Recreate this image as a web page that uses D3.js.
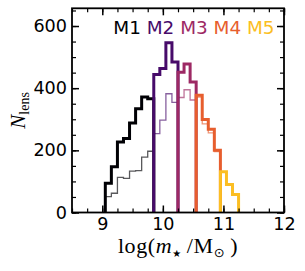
<!DOCTYPE html>
<html>
<head>
<meta charset="utf-8">
<script src="https://cdn.jsdelivr.net/npm/d3@7"></script>
<style>
  body { margin: 0; background: #fff; }
  svg { display: block; }
</style>
</head>
<body>
<div id="chart"></div>
<script>
// bin edges of the mass bins (dex)
let edgesM1 = [9.05, 9.15, 9.25, 9.35, 9.45, 9.55, 9.65, 9.75, 9.85]
let edgesM2 = [9.85, 9.95, 10.05, 10.15, 10.25]
let edgesM3 = [10.25, 10.35, 10.45, 10.55]
let edgesM4 = [10.55, 10.65, 10.75, 10.85, 10.95]
let edgesM5 = [10.95, 11.05, 11.15, 11.25]

// counts, all lenses (thick) and subset (thin)
let allM1 = [94, 147, 227, 238, 288, 334, 372, 366]
let subM1 = [51, 62, 113, 110, 133, 135, 178, 197]
let allM2 = [444, 463, 546, 484]
let subM2 = [254, 297, 382, 354]
let allM3 = [451, 478, 420]
let subM3 = [370, 395, 362]
let allM4 = [377, 299, 268, 200]
let subM4 = [371, 285, 256, 196]
let allM5 = [131, 90, 58]
let subM5 = [131, 90, 58]

let labels = ['M1', 'M2', 'M3', 'M4', 'M5']
let xTicks = [9, 10, 11, 12]
let yTicks = [0, 200, 400, 600]

let groups = [
    { edges: edgesM1, all: allM1, sub: subM1 },
    { edges: edgesM2, all: allM2, sub: subM2 },
    { edges: edgesM3, all: allM3, sub: subM3 },
    { edges: edgesM4, all: allM4, sub: subM4 },
    { edges: edgesM5, all: allM5, sub: subM5 }
]
let colores = [0, 0.2125, 0.425, 0.6375, 0.85].map(t => d3.interpolateInferno(t))

let W = 305, H = 271
let mLeft = 72, mRight = 284, mTop = 8.3, mBottom = 212.5

let svg = d3.select('#chart').append('svg')
    .attr('width', W)
    .attr('height', H)

let x = d3.scaleLinear().domain([8.5, 12]).range([mLeft, mRight])
let y = d3.scaleLinear().domain([0, 657]).range([mBottom, mTop])

// histograms
let line = d3.line().x(d => x(d[0])).y(d => y(d[1]))

function pasos(edges, vals) {
    let pts = [[edges[0], 0]]
    vals.forEach((v, i) => {
        pts.push([edges[i], v])
        pts.push([edges[i + 1], v])
    })
    pts.push([edges[edges.length - 1], 0])
    return pts
}

let hist = svg.append('g')
groups.forEach((g, i) => {
    hist.append('path')
        .attr('d', line(pasos(g.edges, g.sub)))
        .attr('fill', 'none')
        .attr('stroke', colores[i])
        .attr('stroke-opacity', 0.65)
        .attr('stroke-width', 1.3)
})
groups.forEach((g, i) => {
    hist.append('path')
        .attr('d', line(pasos(g.edges, g.all)))
        .attr('fill', 'none')
        .attr('stroke', colores[i])
        .attr('stroke-width', 3)
        .attr('stroke-linejoin', 'miter')
})

// axes, ticks pointing inwards on all four sides
let xMinor = d3.range(8.5, 12.001, 0.25)
let yMinor = d3.range(0, 651, 50)

function estilo(g, w) {
    g.select('.domain').remove()
    g.selectAll('line').attr('stroke', '#000').attr('stroke-width', w)
    g.selectAll('text')
        .attr('font-family', 'DejaVu Sans')
        .attr('font-size', 17.6)
        .attr('fill', '#000')
}

svg.append('g').attr('transform', `translate(0,${mBottom})`)
    .call(d3.axisBottom(x).tickValues(xMinor).tickSize(-4).tickFormat(''))
    .call(g => estilo(g, 1.2))
svg.append('g').attr('transform', `translate(0,${mBottom})`)
    .call(d3.axisBottom(x).tickValues(xTicks).tickSize(-7).tickPadding(5).tickFormat(d3.format('d')))
    .call(g => estilo(g, 1.5))
svg.append('g').attr('transform', `translate(0,${mTop})`)
    .call(d3.axisTop(x).tickValues(xMinor).tickSize(-4).tickFormat(''))
    .call(g => estilo(g, 1.2))
svg.append('g').attr('transform', `translate(0,${mTop})`)
    .call(d3.axisTop(x).tickValues(xTicks).tickSize(-7).tickFormat(''))
    .call(g => estilo(g, 1.5))

svg.append('g').attr('transform', `translate(${mLeft},0)`)
    .call(d3.axisLeft(y).tickValues(yMinor).tickSize(-4).tickFormat(''))
    .call(g => estilo(g, 1.2))
svg.append('g').attr('transform', `translate(${mLeft},0)`)
    .call(d3.axisLeft(y).tickValues(yTicks).tickSize(-7).tickPadding(5).tickFormat(d3.format('d')))
    .call(g => estilo(g, 1.5))
svg.append('g').attr('transform', `translate(${mRight},0)`)
    .call(d3.axisRight(y).tickValues(yMinor).tickSize(-4).tickFormat(''))
    .call(g => estilo(g, 1.2))
svg.append('g').attr('transform', `translate(${mRight},0)`)
    .call(d3.axisRight(y).tickValues(yTicks).tickSize(-7).tickFormat(''))
    .call(g => estilo(g, 1.5))

svg.append('rect')
    .attr('x', mLeft).attr('y', mTop)
    .attr('width', mRight - mLeft).attr('height', mBottom - mTop)
    .attr('fill', 'none')
    .attr('stroke', '#000')
    .attr('stroke-width', 1.8)

// mass bin labels
let leyenda = svg.append('text')
    .attr('x', 113.3)
    .attr('y', 34)
    .attr('font-family', 'DejaVu Sans')
    .attr('font-size', 18.4)
    .attr('xml:space', 'preserve')
labels.forEach((t, i) => {
    leyenda.append('tspan')
        .attr('fill', colores[i])
        .text((i > 0 ? ' ' : '') + t)
})

// x label
let xl = svg.append('text')
    .attr('x', (mLeft + mRight) / 2)
    .attr('y', 253)
    .attr('text-anchor', 'middle')
    .attr('font-family', 'Liberation Serif')
    .attr('font-size', 22)
    .attr('letter-spacing', 0.6)
xl.append('tspan').text('log(')
xl.append('tspan').attr('font-style', 'italic').text('m')
xl.append('tspan').attr('font-family', 'DejaVu Sans').attr('font-size', 10).attr('dy', 4).text('★')
xl.append('tspan').attr('dy', -4).text('\u2009/M')
xl.append('tspan').attr('font-family', 'DejaVu Sans').attr('font-size', 13).attr('dy', 4).text('\u2299')
xl.append('tspan').attr('dy', -4).text('\u2009)')

// y label
let yl = svg.append('text')
    .attr('transform', `translate(25,${(mTop + mBottom) / 2}) rotate(-90)`)
    .attr('text-anchor', 'middle')
    .attr('font-family', 'Liberation Serif')
    .attr('font-size', 21)
yl.append('tspan').attr('font-style', 'italic').text('N')
yl.append('tspan').attr('font-size', 14).attr('dy', 4).text('lens')
</script>
</body>
</html>
